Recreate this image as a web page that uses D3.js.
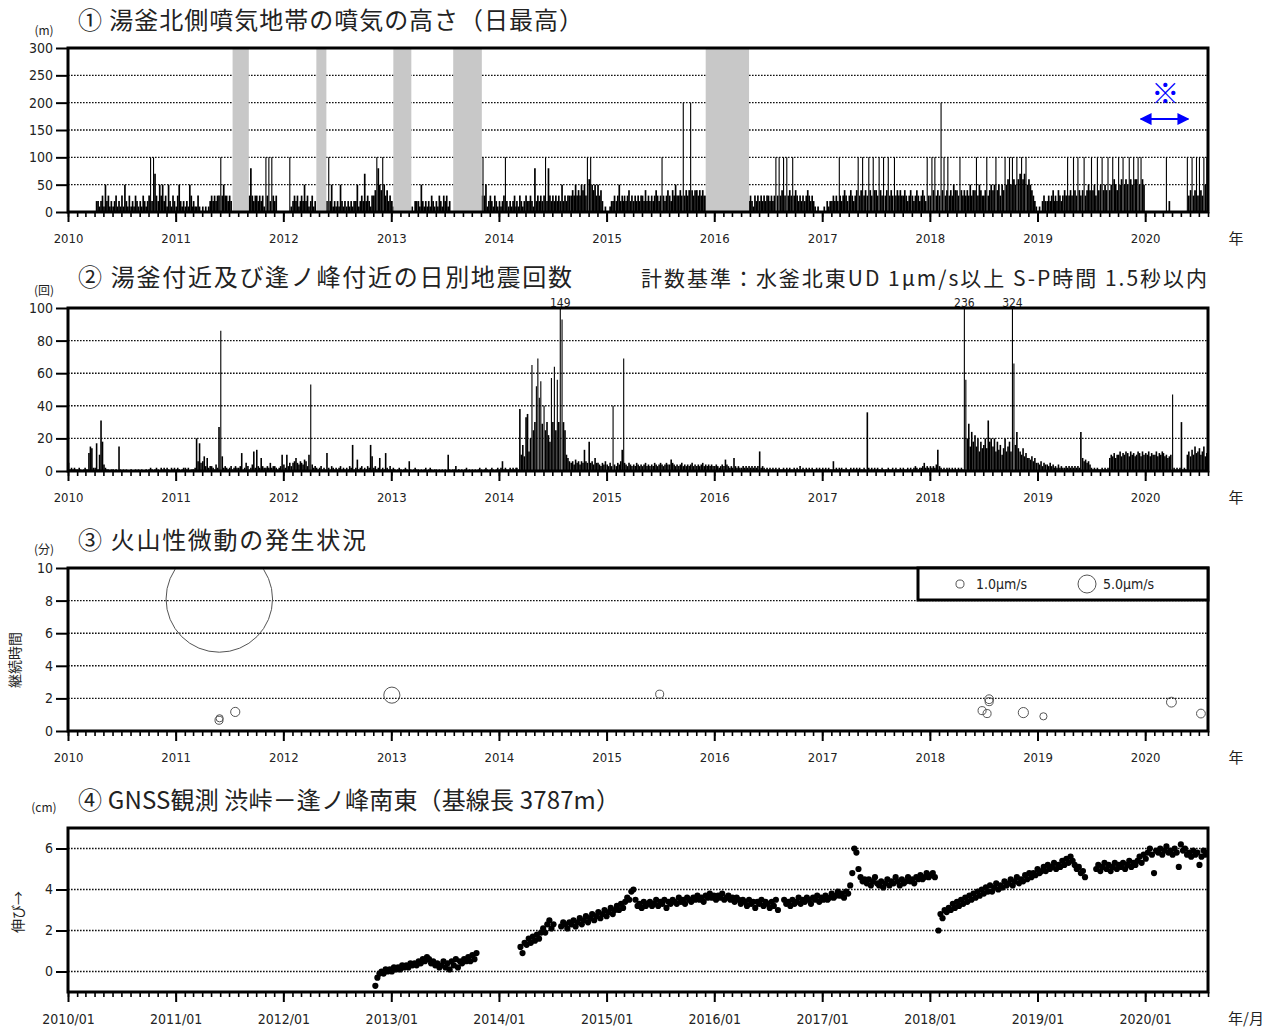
<!DOCTYPE html>
<html>
<head>
<meta charset="utf-8">
<script src="https://cdn.jsdelivr.net/npm/d3@7"></script>
<style>
  body { margin: 0; background: #fff; }
  svg { display: block; }
</style>
</head>
<body>
<script>
// ① plume height (m), 6 values per month (about every 5 days) from 2010/01
var plumeHeight = [
  // 2010
  0,0,0,0,0,0, 0,0,0,0,0,0, 0,0,0,0,0,0, 0,20,20,10,20,30, 10,50,20,30,10,20, 10,20,30,10,20,10,
  30,10,50,20,10,30, 10,20,10,30,20,10, 20,10,30,20,10,20, 30,100,20,100,70,30, 20,50,30,50,20,30, 10,50,20,10,30,20,
  // 2011
  10,30,50,20,10,20, 10,20,10,50,30,10, 20,10,10,30,10,0, 10,0,10,0,10,20, 30,20,30,20,30,30, 100,30,50,30,30,20,
  30,20,0,0,0,0, 0,0,0,0,0,0, 0,30,80,30,20,30, 30,20,30,20,30,10, 100,30,100,20,100,30, 20,30,0,0,0,0,
  // 2012
  0,0,0,0,100,10, 20,30,20,30,10,20, 30,20,50,20,30,10, 20,30,10,20,0,0, 0,0,0,0,0,20, 100,20,50,10,20,10,
  20,10,50,20,10,20, 10,20,10,20,10,20, 20,50,10,20,30,20, 70,20,30,20,10,30, 30,40,100,80,50,40, 100,50,30,40,20,30,
  // 2013
  20,10,0,0,0,0, 0,0,0,0,0,0, 0,0,10,0,20,20, 20,10,50,20,10,20, 10,20,10,30,20,10, 20,10,30,20,10,30,
  20,30,10,20,0,0, 0,0,0,0,0,0, 0,0,0,0,0,0, 0,0,0,0,0,0, 30,100,30,50,10,20, 30,20,10,30,20,10,
  // 2014
  20,10,20,30,100,20, 10,20,10,20,30,10, 20,10,30,20,10,20, 30,20,20,30,20,10, 80,20,30,20,30,20, 30,100,20,80,30,20,
  30,20,30,20,30,20, 50,20,30,20,30,30, 30,40,30,50,30,40, 30,50,40,50,30,100, 60,100,50,40,50,30, 50,30,40,20,0,10,
  // 2015
  0,0,10,20,20,30, 20,30,50,20,30,20, 30,20,30,40,20,30, 20,30,20,30,20,30, 30,20,40,20,30,20, 30,20,30,40,30,20,
  30,100,30,20,30,40, 30,20,40,30,50,30, 30,40,30,200,30,40, 30,40,200,40,30,40, 40,30,40,30,40,30, 30,0,0,0,0,0,
  // 2016
  0,0,0,0,0,0, 0,0,0,0,0,0, 0,0,0,0,0,0, 0,0,0,0,0,20, 30,20,10,30,20,30, 20,30,20,30,20,30,
  30,20,30,20,30,100, 30,100,30,40,100,30, 100,30,40,30,100,30, 40,30,20,30,20,30, 20,30,40,30,20,30, 20,10,0,10,0,0,
  // 2017
  0,10,0,20,10,20, 20,30,20,30,20,100, 30,20,30,40,30,20, 30,40,30,20,30,40, 100,30,40,100,30,40, 30,100,40,30,100,40,
  40,30,100,40,30,100, 30,40,100,30,40,30, 100,30,40,30,40,30, 30,40,30,20,30,40, 30,20,30,40,30,20, 30,40,30,20,100,30,
  // 2018
  30,100,40,100,30,40, 30,200,40,100,30,40, 100,30,40,30,50,40, 40,30,100,40,30,40, 30,40,30,50,30,40, 40,100,30,50,40,30,
  30,40,100,30,40,50, 40,50,100,40,50,30, 50,40,100,50,60,100, 50,100,60,50,100,60, 70,100,60,70,100,50, 60,50,40,30,20,10,
  // 2019
  0,10,0,20,30,20, 20,30,20,30,40,20, 30,20,40,30,20,30, 40,30,100,30,40,30, 100,40,30,100,40,30, 40,100,30,40,50,40,
  100,40,50,30,100,40, 50,100,40,50,40,100, 40,50,100,60,50,40, 100,50,60,100,50,60, 50,100,60,50,100,60, 60,100,50,100,60,50,
  // 2020 (Jan-Jul)
  0,0,0,0,0,0, 0,0,0,0,0,0, 0,0,100,0,20,0, 0,0,0,0,0,0, 0,0,0,0,100,30, 40,100,30,40,100,30,
  100,40,30,100,50,100
];
// periods without observation (grey)
var plumeGapStart = ["2011-07-13", "2012-04-22", "2013-01-08", "2013-07-30", "2015-12-03"];
var plumeGapEnd   = ["2011-09-06", "2012-05-26", "2013-03-10", "2013-11-04", "2016-04-28"];
var plumeTicks = [0, 50, 100, 150, 200, 250, 300];

// ② daily earthquake count, 6 values per month from 2010/01
var quakeCount = [
  // 2010
  5,1,2,1,2,1, 1,2,1,0,1,2, 1,1,11,15,14,2, 2,17,1,10,31,18, 4,2,1,1,0,1, 1,0,1,0,15,1,
  0,1,0,1,0,0, 1,0,0,1,0,1, 0,1,0,0,1,0, 1,2,1,0,1,2, 1,0,2,1,2,1, 2,1,0,2,1,2,
  // 2011
  1,2,1,0,1,2, 2,1,2,0,1,1, 1,2,20,6,17,5, 6,9,3,8,2,3, 3,2,1,4,2,27, 86,9,2,3,2,1,
  2,3,1,2,3,2, 2,3,11,1,2,5, 3,1,2,4,12,2, 13,3,2,8,3,2, 2,3,2,5,2,3, 3,2,1,2,3,10,
  // 2012
  4,2,10,3,5,3, 5,6,8,5,4,6, 5,4,7,6,3,10, 53,4,2,3,2,1, 2,3,1,2,1,11, 2,1,3,2,1,2,
  1,2,3,1,2,1, 2,1,3,2,16,1, 2,7,1,2,3,1, 2,1,3,2,16,9, 2,3,1,2,8,1, 2,1,11,2,1,3,
  // 2013
  1,2,1,0,1,2, 1,0,1,2,1,0, 6,1,0,1,2,1, 1,0,1,0,1,2, 0,1,2,1,0,1, 1,0,1,0,1,0,
  1,0,10,1,0,1, 1,3,0,1,0,1, 0,1,2,0,1,0, 1,0,1,0,1,2, 1,0,1,2,1,0, 1,2,1,0,1,2,
  // 2014
  1,2,6,1,2,1, 1,2,1,2,1,2, 2,1,38,10,16,9, 33,35,12,20,65,25, 30,52,69,45,55,29, 40,25,30,22,18,57,
  30,64,25,56,30,149, 93,30,25,10,8,6, 5,6,4,7,5,6, 4,6,5,13,6,5, 18,5,6,4,8,5, 5,4,3,5,4,6,
  // 2015
  4,3,5,3,40,4, 3,5,4,6,13,69, 5,4,3,5,4,3, 4,3,5,4,3,4, 3,4,5,3,4,3, 4,3,5,4,3,4,
  5,4,3,4,5,4, 4,7,5,4,3,4, 3,4,5,3,4,3, 4,3,4,5,3,4, 3,4,3,4,5,3, 4,3,4,3,4,3,
  // 2016
  3,4,3,2,3,4, 3,7,4,3,2,3, 2,8,3,2,3,2, 2,3,2,3,2,3, 2,3,2,3,2,3, 12,2,3,2,1,2,
  1,2,1,2,1,2, 1,2,1,1,2,1, 2,1,2,1,1,2, 1,2,1,3,1,2, 1,2,1,2,1,2, 1,1,2,1,2,1,
  // 2017
  2,1,2,1,2,1, 1,6,1,2,1,2, 1,2,1,1,2,1, 1,2,1,2,1,2, 1,2,1,1,2,1, 36,2,1,2,1,2,
  1,2,1,1,2,1, 1,1,2,1,1,2, 1,2,1,1,2,1, 2,1,1,2,1,2, 1,2,3,2,1,2, 2,3,5,2,3,2,
  // 2018
  3,2,3,2,4,13, 3,2,1,2,1,2, 1,2,1,2,1,2, 1,2,1,2,1,236, 56,20,29,15,24,18, 22,15,20,12,18,14,
  16,20,14,31,18,20, 15,20,12,18,13,16, 10,14,20,12,15,18, 12,324,66,16,24,14, 12,10,14,9,11,8, 8,7,9,6,8,5,
  // 2019
  5,4,6,3,5,4, 4,3,5,3,4,2, 3,2,4,2,3,2, 2,3,2,3,2,3, 2,3,2,3,2,24, 8,6,7,5,6,4,
  2,1,2,1,2,1, 1,2,1,2,1,2, 8,10,9,11,8,10, 10,12,9,11,10,12, 11,9,12,10,11,9, 10,12,11,9,12,10,
  // 2020 (Jan-Jul)
  11,10,12,9,11,10, 10,12,9,11,10,12, 11,9,10,8,9,10, 47,2,1,2,1,2, 30,1,2,1,10,12, 9,13,10,15,11,12,
  14,10,12,15,9,11
];
var quakeTicks = [0, 20, 40, 60, 80, 100];

// ③ volcanic tremor: date, duration (min), max amplitude (μm/s)
var tremorDate = ["2011-05-29", "2011-05-28", "2011-05-30", "2011-07-22", "2013-01-03", "2015-06-30",
                  "2018-06-27", "2018-07-14", "2018-07-21", "2018-07-21", "2018-11-14", "2019-01-21",
                  "2020-03-30", "2020-07-08"];
var tremorDuration = [8.1, 0.66, 0.78, 1.17, 2.2, 2.26, 1.25, 1.07, 1.95, 1.8, 1.13, 0.9, 1.77, 1.07];
var tremorAmp = [175, 1.0, 0.8, 1.3, 4.0, 1.0, 1.0, 1.0, 1.2, 1.0, 1.6, 0.8, 1.5, 1.2];
var tremorTicks = [0, 2, 4, 6, 8, 10];
var legendAmp = [1.0, 5.0];

// ④ GNSS baseline change (cm), weekly values per continuous segment
var gnssStart = ["2012-11-08", "2014-03-15", "2014-07-31", "2016-08-25", "2018-01-30", "2019-07-19"];
var gnssSeg1 = [-0.7,-0.3,-0.1,0.0,-0.1,0.1,0.0,0.1,0.0,0.2,0.1,0.2,0.1,0.3,0.2,0.3,0.2,0.4,0.3,0.4,
  0.3,0.5,0.4,0.6,0.5,0.7,0.6,0.4,0.5,0.3,0.4,0.2,0.3,0.5,0.2,0.4,0.1,0.5,0.3,0.6,
  0.2,0.5,0.4,0.6,0.5,0.7,0.5,0.8,0.6,0.9];
var gnssSeg2 = [1.2,0.9,1.4,1.3,1.6,1.4,1.7,1.5,1.8,1.6,1.9,2.1,1.9,2.3,2.5,2.1,2.3];
var gnssSeg3 = [2.2,2.4,2.3,2.1,2.4,2.3,2.5,2.2,2.4,2.6,2.3,2.5,2.7,2.4,2.6,2.8,2.5,2.7,2.9,2.6,
  2.8,3.0,2.7,2.9,3.1,2.8,3.0,3.2,3.0,3.3,3.1,3.4,3.6,3.5,3.9,4.0,
  3.5,3.2,3.3,3.1,3.4,3.2,3.3,3.4,3.2,3.3, 3.5,3.2,3.4,3.3,3.5,3.1,3.4,3.3,3.5,3.4,
  3.3,3.6,3.4,3.5,3.3,3.6,3.5,3.4,3.6,3.5, 3.7,3.5,3.6,3.4,3.7,3.6,3.8,3.6,3.7,3.5,
  3.7,3.6,3.8,3.5,3.6,3.7,3.5,3.6,3.4,3.6, 3.5,3.3,3.5,3.4,3.2,3.5,3.3,3.4,3.1,3.4,
  3.3,3.5,3.2,3.4,3.3,3.1,3.4,3.2,3.5,3.0];
var gnssSeg4 = [3.5,3.3,3.4,3.2,3.5,3.3,3.4,3.6,3.3,3.5, 3.4,3.6,3.5,3.3,3.6,3.5,3.7,3.4,3.6,3.5,
  3.7,3.5,3.6,3.8,3.6,3.7,3.9,3.7,3.8,3.6,3.9,3.8,4.2, 4.8,6.0,5.8,5.0,4.6,4.4,4.5,4.3,
  4.5,4.2,4.4,4.6,4.3,4.2,4.4,4.1,4.3, 4.5,4.2,4.4,4.3,4.6,4.4,4.2,4.5,4.3,4.4,
  4.6,4.4,4.5,4.3,4.6,4.5,4.7,4.5,4.6,4.8,4.6,4.7, 4.8,4.6];
var gnssSeg5 = [2.0,2.8,2.6,3.0,2.9,3.1,3.0,3.3, 3.1,3.4,3.2,3.5,3.3,3.6,3.4,
  3.7,3.5,3.8,3.6,3.9,3.7,4.0,3.8,4.1,3.9, 4.2,3.9,4.1,4.3,4.0,4.2,4.1,4.4,4.2,4.3,
  4.5,4.2,4.4,4.6,4.3,4.5,4.4,4.7,4.5,4.8, 4.6,4.8,4.7,5.0,4.8,4.9,5.1,4.9,5.2,5.0,
  5.1,5.3,5.0,5.2,5.1,5.4,5.2,5.5,5.3,5.6, 5.4,5.2,5.0,5.1,4.8,4.9,4.6];
var gnssSeg6 = [5.0,5.2,4.9,5.1,5.3,5.0,5.2,4.9,5.1,5.3, 5.0,5.2,5.1,5.3,5.0,5.2,5.4,5.1,5.3,5.2,
  5.4,5.6,5.3,5.7,5.5,5.8,6.0,5.7,4.8,5.9, 5.8,6.0,5.7,5.9,6.1,5.8,5.9,5.7,6.0,5.8,
  5.1,6.2,5.9,6.0,5.7,5.8,5.6,5.9,5.7,5.8, 5.2,5.6,5.9,5.7,5.8];
var gnssTicks = [0, 2, 4, 6];

// blue note on panel ①
var noteFrom = "2019-12-17", noteTo = "2020-05-26", noteMark = "2020-03-09";

var JP = '"Noto Sans CJK JP", "Noto Sans", sans-serif';
var NUM = '"DejaVu Sans Condensed", "Liberation Sans Narrow", "DejaVu Sans", sans-serif';
var L = 68, R = 1208;
var parse = d3.timeParse("%Y-%m-%d");

var svg = d3.select("body").append("svg")
  .attr("width", 1277)
  .attr("height", 1034);

var defs = svg.append("defs");
defs.append("marker")
  .attr("id", "ah")
  .attr("viewBox", "0 0 10 10")
  .attr("refX", 9).attr("refY", 5)
  .attr("markerWidth", 6).attr("markerHeight", 6)
  .attr("orient", "auto-start-reverse")
  .append("path").attr("d", "M0,0L10,5L0,10Z").attr("fill", "#0000ff");

var x = d3.scaleTime()
  .domain([new Date(2010, 0, 1), new Date(2020, 7, 1)])
  .range([L, R]);

function slotDate(i) {
  return new Date(2010, Math.floor(i / 6), 3 + (i % 6) * 5);
}

function addPanel(top, bottom, domain, ticks, grid) {
  var y = d3.scaleLinear().domain(domain).range([bottom, top]);
  svg.append("g").selectAll("line")
    .data(grid)
    .enter()
    .append("line")
    .attr("x1", L).attr("x2", R)
    .attr("y1", d => y(d)).attr("y2", d => y(d))
    .attr("stroke", "#111")
    .attr("stroke-width", 1.4)
    .attr("stroke-dasharray", "1.6,1.4");
  var id = "clip" + top;
  defs.append("clipPath").attr("id", id)
    .append("rect").attr("x", L).attr("y", top).attr("width", R - L).attr("height", bottom - top);
  var data = svg.append("g").attr("clip-path", "url(#" + id + ")");
  return { y: y, data: data, top: top, bottom: bottom, ticks: ticks };
}

function finishPanel(p, fmt, fsize, unitLabel) {
  var ya = svg.append("g")
    .attr("transform", "translate(" + L + ",0)")
    .call(d3.axisLeft(p.y).tickValues(p.ticks).tickSize(12).tickPadding(3).tickFormat(d3.format("d")));
  ya.select(".domain").remove();
  ya.selectAll("line").attr("stroke", "#000").attr("stroke-width", 2);
  ya.selectAll("text").attr("font-family", NUM).attr("font-size", 14).attr("fill", "#222");

  var minor = svg.append("g")
    .attr("transform", "translate(0," + p.bottom + ")")
    .call(d3.axisBottom(x).ticks(d3.timeMonth.every(1)).tickSize(5).tickFormat(""));
  minor.select(".domain").remove();
  minor.selectAll("line").attr("stroke", "#000").attr("stroke-width", 1.6);

  var major = svg.append("g")
    .attr("transform", "translate(0," + p.bottom + ")")
    .call(d3.axisBottom(x).ticks(d3.timeYear.every(1)).tickSize(10).tickPadding(12).tickFormat(d3.timeFormat(fmt)));
  major.select(".domain").remove();
  major.selectAll("line").attr("stroke", "#000").attr("stroke-width", 2);
  major.selectAll("text").attr("font-family", NUM).attr("font-size", fsize).attr("fill", "#222");

  svg.append("rect")
    .attr("x", L).attr("y", p.top)
    .attr("width", R - L).attr("height", p.bottom - p.top)
    .attr("fill", "none")
    .attr("stroke", "#000")
    .attr("stroke-width", 3);

  svg.append("text")
    .attr("x", unitLabel === "年/月" ? 1246 : 1236)
    .attr("y", p.bottom + 32)
    .attr("text-anchor", "middle")
    .attr("font-family", JP).attr("font-size", 15).attr("fill", "#222")
    .text(unitLabel);
}

function title(txt, yb, len) {
  svg.append("text")
    .attr("x", 78).attr("y", yb)
    .attr("font-family", JP).attr("font-size", 24).attr("fill", "#222")
    .attr("textLength", len).attr("lengthAdjust", "spacing")
    .text(txt);
}

function unit(txt, yb) {
  svg.append("text")
    .attr("x", 44).attr("y", yb)
    .attr("text-anchor", "middle")
    .attr("font-family", JP).attr("font-size", 12).attr("fill", "#222")
    .text(txt);
}

// ---------- ① plume height ----------
var p1 = addPanel(48, 212, [0, 300], plumeTicks, [50, 100, 150, 200, 250]);
p1.data.selectAll(".bar")
  .data(plumeHeight.map((v, i) => ({ date: slotDate(i), v: v })).filter(d => d.v > 0))
  .enter()
  .append("line")
  .attr("class", "bar")
  .attr("x1", d => x(d.date)).attr("x2", d => x(d.date))
  .attr("y1", p1.y(0)).attr("y2", d => p1.y(d.v))
  .attr("stroke", "#000")
  .attr("stroke-width", d => d.v >= 100 ? 1.1 : 1.7);
p1.data.selectAll(".gap")
  .data(plumeGapStart)
  .enter()
  .append("rect")
  .attr("class", "gap")
  .attr("x", d => x(parse(d)))
  .attr("width", (d, i) => x(parse(plumeGapEnd[i])) - x(parse(d)))
  .attr("y", p1.y(300))
  .attr("height", p1.y(0) - p1.y(300))
  .attr("fill", "#c8c8c8");
finishPanel(p1, "%Y", 13, "年");
title("① 湯釜北側噴気地帯の噴気の高さ（日最高）", 29, 505);
unit("(m)", 35);

svg.append("line")
  .attr("x1", x(parse(noteFrom))).attr("x2", x(parse(noteTo)))
  .attr("y1", p1.y(170)).attr("y2", p1.y(170))
  .attr("stroke", "#0000ff").attr("stroke-width", 2)
  .attr("marker-start", "url(#ah)").attr("marker-end", "url(#ah)");
svg.append("text")
  .attr("x", x(parse(noteMark))).attr("y", p1.y(220))
  .attr("text-anchor", "middle").attr("dominant-baseline", "central")
  .attr("font-family", JP).attr("font-size", 28).attr("fill", "#0000ff")
  .text("※");

// ---------- ② earthquakes ----------
var p2 = addPanel(308, 471, [0, 100], quakeTicks, [20, 40, 60, 80]);
var quakeData = quakeCount.map((v, i) => ({ date: slotDate(i), v: v }));
p2.data.selectAll(".bar")
  .data(quakeData.filter(d => d.v > 0))
  .enter()
  .append("line")
  .attr("class", "bar")
  .attr("x1", d => x(d.date)).attr("x2", d => x(d.date))
  .attr("y1", p2.y(0)).attr("y2", d => p2.y(Math.min(d.v, 100)))
  .attr("stroke", "#000")
  .attr("stroke-width", d => d.v >= 40 ? 1.1 : 1.6);
svg.selectAll(".over")
  .data(quakeData.filter(d => d.v > 100))
  .enter()
  .append("text")
  .attr("class", "over")
  .attr("x", d => x(d.date))
  .attr("y", p2.top - 1.5)
  .attr("text-anchor", "middle")
  .attr("font-family", NUM).attr("font-size", 12).attr("fill", "#222")
  .text(d => d.v);
finishPanel(p2, "%Y", 13, "年");
title("② 湯釜付近及び逢ノ峰付近の日別地震回数", 286, 494);
unit("(回)", 295);
svg.append("text")
  .attr("x", 641).attr("y", 286)
  .attr("font-family", JP).attr("font-size", 21).attr("fill", "#222")
  .attr("textLength", 566).attr("lengthAdjust", "spacing")
  .text("計数基準：水釜北東UD 1μm/s以上 S-P時間 1.5秒以内");

// ---------- ③ tremor ----------
var p3 = addPanel(568, 731, [0, 10], tremorTicks, [2, 4, 6, 8]);
var r = d3.scaleSqrt().domain([0, 5]).range([0, 9]);
p3.data.selectAll("circle")
  .data(tremorDate.map((d, i) => ({ date: parse(d), dur: tremorDuration[i], amp: tremorAmp[i] })))
  .enter()
  .append("circle")
  .attr("cx", d => x(d.date))
  .attr("cy", d => p3.y(d.dur))
  .attr("r", d => r(d.amp))
  .attr("fill", "none")
  .attr("stroke", "#555")
  .attr("stroke-width", 1);
finishPanel(p3, "%Y", 13, "年");
title("③ 火山性微動の発生状況", 549, 288);
unit("(分)", 554);
svg.append("text")
  .attr("transform", "translate(20,660) rotate(-90)")
  .attr("text-anchor", "middle")
  .attr("font-family", JP).attr("font-size", 14).attr("fill", "#222")
  .text("継続時間");

var lg = svg.append("g");
lg.append("rect")
  .attr("x", 918).attr("y", 568).attr("width", 290).attr("height", 32)
  .attr("fill", "#fff").attr("stroke", "#000").attr("stroke-width", 3);
var legendX = [960, 1087];
lg.selectAll("circle")
  .data(legendAmp)
  .enter()
  .append("circle")
  .attr("cx", (d, i) => legendX[i]).attr("cy", 584)
  .attr("r", d => r(d))
  .attr("fill", "none").attr("stroke", "#555").attr("stroke-width", 1);
lg.selectAll("text")
  .data(legendAmp)
  .enter()
  .append("text")
  .attr("x", (d, i) => legendX[i] + 16).attr("y", 589)
  .attr("font-family", NUM).attr("font-size", 14).attr("fill", "#222")
  .text(d => d3.format(".1f")(d) + "μm/s");

// ---------- ④ GNSS ----------
var p4 = addPanel(828, 992, [-1, 7], gnssTicks, [0, 2, 4, 6]);
var gnssSegs = [gnssSeg1, gnssSeg2, gnssSeg3, gnssSeg4, gnssSeg5, gnssSeg6];
var gnssData = [];
gnssSegs.forEach(function(seg, s) {
  var t0 = parse(gnssStart[s]);
  seg.forEach(function(v, i) {
    gnssData.push({ date: d3.timeDay.offset(t0, i * 7), v: v });
  });
});
p4.data.selectAll("circle")
  .data(gnssData)
  .enter()
  .append("circle")
  .attr("cx", d => x(d.date))
  .attr("cy", d => p4.y(d.v))
  .attr("r", 3.1)
  .attr("fill", "#000");
finishPanel(p4, "%Y/%m", 14, "年/月");
title("④ GNSS観測 渋峠－逢ノ峰南東（基線長 3787m）", 809, 542);
unit("(cm)", 812);
svg.append("text")
  .attr("transform", "translate(23,912) rotate(-90)")
  .attr("text-anchor", "middle")
  .attr("font-family", JP).attr("font-size", 14).attr("fill", "#222")
  .text("伸び→");
</script>
</body>
</html>
